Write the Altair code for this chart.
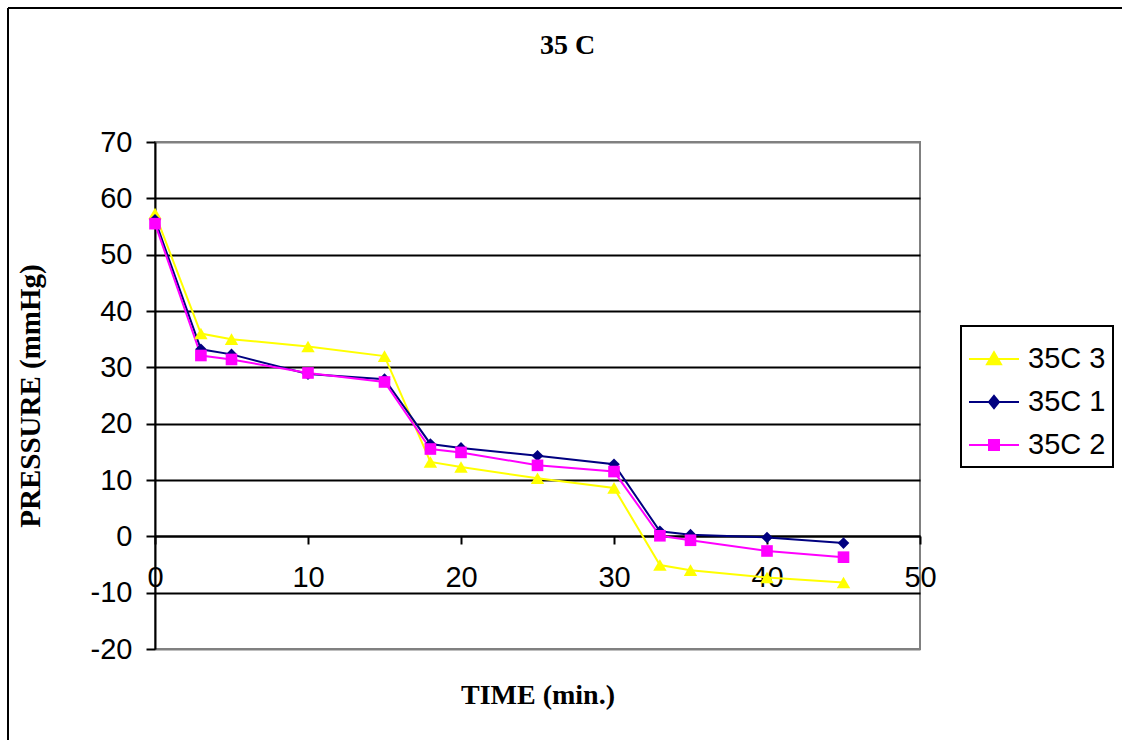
import altair as alt
import pandas as pd

# ---- data ----
time_min = [0, 3, 5, 10, 15, 18, 20, 25, 30, 33, 35, 40, 45]
p_35c3 = [57.3, 36.0, 35.0, 33.7, 32.0, 13.2, 12.3, 10.3, 8.6, -5.1, -6.0, -7.3, -8.2]
p_35c1 = [56.2, 33.2, 32.3, 28.8, 27.9, 16.4, 15.7, 14.3, 12.8, 0.9, 0.3, -0.2, -1.2]
p_35c2 = [55.5, 32.1, 31.4, 29.0, 27.4, 15.5, 14.9, 12.6, 11.5, 0.1, -0.7, -2.6, -3.7]

series_names = ["35C 3", "35C 1", "35C 2"]
series_colors = ["#FFFF00", "#000080", "#FF00FF"]
point_shapes = ["triangle-up", "diamond", "square"]
point_sizes = [180, 135, 135]
legend_symbols = [
    "M-1,0H1M0,-0.27L0.28,0.21L-0.28,0.21Z",
    "M-1,0H1M0,-0.25L0.2,0L0,0.25L-0.2,0Z",
    "M-1,0H1M-0.2,-0.2H0.2V0.2H-0.2Z",
]
y_ticks = [-20, -10, 0, 10, 20, 30, 40, 50, 60, 70]
x_ticks = [0, 10, 20, 30, 40, 50]

rows = []
for name, vals in zip(series_names, [p_35c3, p_35c1, p_35c2]):
    for t, v in zip(time_min, vals):
        rows.append({"time": t, "pressure": v, "series": name})
df = pd.DataFrame(rows)

SANS = "Liberation Sans"
SERIF = "Liberation Serif"

x_enc = alt.X(
    "time:Q",
    scale=alt.Scale(domain=[0, 50], nice=False),
    axis=alt.Axis(
        values=x_ticks, grid=False, offset=-113,
        domainColor="black", domainWidth=2,
        tickColor="black", tickWidth=2, tickSize=8,
        labelFont=SANS, labelFontSize=29, labelColor="black", labelPadding=19,
        labelFlush=False, labelOverlap=False,
        title="TIME (min.)", titleFont=SERIF, titleFontSize=28, titleFontWeight="bold",
        titleColor="black", titleY=159, titleBaseline="middle",
    ),
)
y_enc = alt.Y(
    "pressure:Q",
    scale=alt.Scale(domain=[-20, 70], nice=False),
    axis=alt.Axis(
        values=y_ticks, grid=True,
        gridColor={"condition": {"test": "datum.value === 70 || datum.value === -20", "value": "#808080"}, "value": "black"},
        gridWidth=2,
        domainColor="black", domainWidth=2,
        tickColor="black", tickWidth=2, tickSize=9,
        labelFont=SANS, labelFontSize=29, labelColor="black", labelPadding=14,
        labelFlush=False, labelOverlap=False, labelExpr="datum.value + ''",
        title="PRESSURE (mmHg)", titleFont=SERIF, titleFontSize=29, titleFontWeight="bold",
        titleColor="black", titleX=-125, titleY=253.5, titleAngle=270,
        titleBaseline="middle", titleAlign="center",
    ),
)

base = alt.Chart(df)

line_layers = []
point_layers = []
for name, col, shp, sz in zip(series_names, series_colors, point_shapes, point_sizes):
    sub = base.transform_filter(alt.datum.series == name)
    line_layers.append(sub.mark_line(strokeWidth=2, color=col).encode(x=x_enc, y=y_enc))
    point_layers.append(
        sub.mark_point(filled=True, opacity=1, shape=shp, size=sz, color=col).encode(x=x_enc, y=y_enc)
    )

leg_def = alt.Legend(
    title=None, orient="none", legendX=806, legendY=184,
    padding=7, strokeColor="black", fillColor="white",
    labelFont=SANS, labelFontSize=29, labelColor="black", labelOffset=8,
    symbolSize=2500, symbolStrokeWidth=2, rowPadding=2,
)

legend_layer = base.transform_filter("false").mark_point(filled=True, opacity=1, strokeWidth=2).encode(
    x=x_enc, y=y_enc,
    shape=alt.Shape("series:N", scale=alt.Scale(domain=series_names, range=legend_symbols), legend=leg_def),
    fill=alt.Fill("series:N", scale=alt.Scale(domain=series_names, range=series_colors), legend=leg_def),
    stroke=alt.Stroke("series:N", scale=alt.Scale(domain=series_names, range=series_colors), legend=leg_def),
)

frame_df = pd.DataFrame({"k": [0]})
frame_left = alt.Chart(frame_df).mark_rule(color="black", strokeWidth=2).encode(
    x=alt.value(-147), y=alt.value(-134), y2=alt.value(598)
)
frame_top = alt.Chart(frame_df).mark_rule(color="black", strokeWidth=2).encode(
    x=alt.value(-147), x2=alt.value(967), y=alt.value(-134)
)

chart = alt.layer(frame_left, frame_top, *line_layers, *point_layers, legend_layer).properties(
    width=765, height=507,
    padding={"left": 7, "top": 7, "right": 0, "bottom": 0},
    background="white",
    title=alt.TitleParams(
        "35 C", font=SERIF, fontSize=28, fontWeight="bold", color="black",
        anchor="middle", dx=30, offset=-53,
    ),
).configure_view(
    stroke="#808080", strokeWidth=2
).configure_legend(
    strokeWidth=2
)

chart.save("out.html", embed_options={"renderer": "svg", "actions": False})
